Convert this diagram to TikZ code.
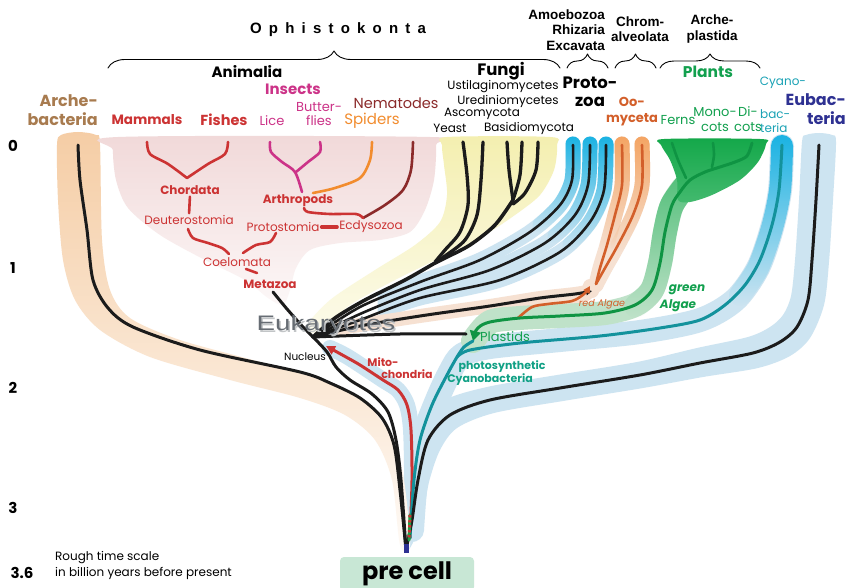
\documentclass[tikz,border=0pt]{standalone}
\usepackage{fontspec}
\usepackage{graphicx}
\setmainfont{Poppins}
\newfontfamily\arial{Liberation Sans}
\usetikzlibrary{arrows.meta,decorations.pathreplacing,fadings}

\definecolor{animred}{HTML}{CC3333}
\definecolor{insect}{HTML}{CC3388}
\definecolor{spider}{HTML}{F28C2E}
\definecolor{nema}{HTML}{8B2A2A}
\definecolor{archetxt}{HTML}{A87B4F}
\definecolor{archeband}{HTML}{F5CDA5}
\definecolor{animbg}{HTML}{F1D9D9}
\definecolor{fungibg}{HTML}{F4EFB0}
\definecolor{protocyan}{HTML}{1BB3E3}
\definecolor{paleblue}{HTML}{CDE4F1}
\definecolor{oobg}{HTML}{F4A564}
\definecolor{ooline}{HTML}{D35F2A}
\definecolor{peach}{HTML}{F6E1D2}
\definecolor{plantgreen}{HTML}{14A84A}
\definecolor{plantline}{HTML}{0F9443}
\definecolor{algaebg}{HTML}{BFE2C9}
\definecolor{greentxt}{HTML}{12A04E}
\definecolor{cyantxt}{HTML}{1AA2B5}
\definecolor{tealline}{HTML}{13929C}
\definecolor{eubtxt}{HTML}{2E3192}
\definecolor{precell}{HTML}{C8E7D5}
\definecolor{eukgray}{HTML}{676D74}
\definecolor{photo}{HTML}{10A085}
\definecolor{linek}{HTML}{1B1B1B}

\tikzfading[name=downfade, top color=transparent!0, bottom color=transparent!100]

\tikzset{
  ft/.style 2 args={font=\fontsize{#1}{#2}\selectfont},
  fb/.style 2 args={font=\fontsize{#1}{#2}\selectfont\bfseries},
  fi/.style 2 args={font=\fontsize{#1}{#2}\selectfont\itshape},
  fbi/.style 2 args={font=\fontsize{#1}{#2}\selectfont\bfseries\itshape},
  hd/.style={font=\arial\fontsize{13.5}{15.5}\selectfont\bfseries},
  blk/.style={draw=linek,line width=3},
  anim/.style={draw=animred,line width=2.6},
  tip/.style={-{Triangle[length=#1,width=#1]}}
}

\begin{document}
\begin{tikzpicture}[x=1pt,y=-1pt,line cap=round,line join=round,
  every node/.style={inner sep=0pt}]
\useasboundingbox (0,0) rectangle (850,588);
\fill[white] (0,0) rectangle (850,588);

% junctions of the tree
\coordinate (E) at (313,337);
\coordinate (P) at (473,341);
\coordinate (R) at (592,291);
\coordinate (Ra) at (590,286);
\coordinate (O) at (406,550);

%% background bands
% eubacteria
\fill[paleblue] plot[smooth cycle,tension=0.5] coordinates {(802,142) (799,200) (795,260) (791,296) (783,315) (770,327) (748,337) (697,348) (637,362) (557,375) (487,387) (443,401) (415,430) (404,475) (400,520) (403,548) (410,548) (422,520) (429,482) (440,450) (457,428) (494,413) (563,401) (643,388) (703,377) (758,368) (790,356) (810,338) (824,305) (829,262) (833,200) (836,142) (832,135) (819,133) (806,135)};
% cyanobacteria
\draw[paleblue,line width=24] plot[smooth] coordinates {(782,146) (780,190) (772,228) (758,268) (735,300) (700,320) (640,332) (560,340) (490,347) (462,355) (450,372) (437,400) (424,435) (416,480) (412,530)};
\draw[protocyan,line width=22,path fading=downfade] plot[smooth] coordinates {(782,146) (780,190) (772,228) (758,268) (740,295)};
% mitochondria
\draw[paleblue,line width=16] plot[smooth] coordinates {(330,348) (348,357) (383,380) (398,390) (407,405) (411,430) (412,480) (410,530)};
% archebacteria
\shade[top color=archeband,bottom color=archeband!10] plot[smooth cycle,tension=0.5] coordinates {(57,145) (58,200) (63,260) (75,300) (100,330) (150,357) (230,380) (300,398) (345,415) (375,440) (392,480) (400,545) (410,545) (404,480) (393,440) (368,405) (330,383) (260,362) (180,340) (130,318) (110,290) (102,240) (100,145) (96,135) (78,132) (61,135)};
% animals
\shade[top color=animbg,bottom color=animbg!20] plot[smooth cycle,tension=0.5] coordinates {(118,137) (430,137) (436,145) (434,180) (425,210) (410,232) (380,240) (340,243) (310,250) (296,268) (290,290) (283,305) (268,298) (245,280) (205,260) (160,235) (128,208) (116,180) (113,150)};
% fungi
\shade[top color=fungibg,bottom color=fungibg!25] plot[smooth cycle,tension=0.5] coordinates {(447,137) (550,137) (557,145) (554,170) (540,195) (515,215) (480,238) (440,258) (395,280) (350,305) (318,332) (305,328) (330,300) (375,270) (415,245) (440,222) (447,195) (444,165) (442,145)};
% protozoa
\foreach \pth in {
  {(573,144) (572,180) (560,205) (530,232) (480,260) (420,282) (385,296)},
  {(590,144) (588,185) (575,215) (545,243) (490,270) (420,290) (385,303)},
  {(606,144) (604,190) (590,222) (560,252) (500,280) (420,298) (385,310)}}
  \draw[paleblue,line width=15] plot[smooth] coordinates \pth;
\draw[protocyan,line width=15,path fading=downfade] plot[smooth] coordinates {(573,144) (572,180) (560,205) (540,225)};
\draw[protocyan,line width=15,path fading=downfade] plot[smooth] coordinates {(590,144) (588,185) (575,215) (555,236)};
\draw[protocyan,line width=15,path fading=downfade] plot[smooth] coordinates {(606,144) (604,190) (590,222) (570,244)};
% chromalveolata and red algae
\draw[peach,line width=14] plot[smooth] coordinates {(340,328) (420,316) (490,306) (540,298) (575,294) (R)};
\draw[peach,line width=14] plot[smooth] coordinates {(515,320) (532,307) (548,304) (572,301) (586,294) (Ra)};
\draw[peach,line width=15] plot[smooth] coordinates {(622,144) (622,185) (615,215) (607,245) (600,268) (596,285)};
\draw[peach,line width=15] plot[smooth] coordinates {(642,144) (642,185) (633,215) (618,245) (605,268) (596,285)};
\draw[oobg,line width=15,path fading=downfade] plot[smooth] coordinates {(622,144) (622,185) (615,215) (607,245)};
\draw[oobg,line width=15,path fading=downfade] plot[smooth] coordinates {(642,144) (642,185) (633,215) (618,245)};
% green algae
\draw[algaebg,line width=24] plot[smooth] coordinates {(P) (490,322) (520,318) (560,316) (605,313) (635,305) (652,290) (660,263) (665,232) (672,205) (683,188)};
\draw[plantgreen!75,line width=24,path fading=downfade] plot[smooth] coordinates {(690,180) (672,205) (665,232) (660,263) (652,290) (636,306)};
% plants
\shade[top color=plantgreen,bottom color=plantgreen!80] plot[smooth cycle,tension=0.5] coordinates {(664,139) (760,139) (766,144) (758,162) (740,180) (712,195) (690,202) (678,200) (677,180) (670,160) (661,145)};

%% animal tree
\draw[anim] plot[smooth] coordinates {(147,142) (150,154) (168,164) (187,178)};
\draw[anim] plot[smooth] coordinates {(228,142) (225,154) (208,164) (187,178)};
\draw[insect,line width=2.6] plot[smooth] coordinates {(270,142) (271,152) (282,162) (295,172) (302,192)};
\draw[insect,line width=2.6] plot[smooth] coordinates {(320,142) (320,152) (308,162) (296,172)};
\draw[spider,line width=2.6] plot[smooth] coordinates {(372,142) (370,160) (360,178) (335,188) (313,193)};
\draw[nema,line width=2.6] plot[smooth] coordinates {(413,142) (411,170) (403,190) (385,205) (363,218)};

\node[fb={12}{14},animred] (chordata) at (190,190) {Chordata};
\node[ft={12}{14},animred] (deutero) at (189,220) {Deuterostomia};
\node[ft={12}{14},animred] (protosto) at (283,227) {Protostomia};
\node[ft={12}{14},animred] (ecdyso) at (371,227) {Ecdysozoa};
\node[ft={12}{14},animred] (coelomata) at (237,262) {Coelomata};
\node[fb={12}{14},animred] (metazoa) at (270,284) {Metazoa};
\node[fb={12}{14},animred] (arthro) at (298,201) {Arthropods};

\draw[anim,shorten <=2,shorten >=2] (chordata.south) -- (deutero.north);
\draw[anim,line width=3.5,shorten <=2,shorten >=2] (protosto.east) -- (ecdyso.west);
\draw[anim] (246,269) -- (257,273);
\draw[anim] plot[smooth] coordinates {(188,229) (193,238) (208,243) (222,248) (229,254)};
\draw[anim] plot[smooth] coordinates {(276,233) (270,242) (256,245) (243,253)};
\draw[anim] plot[smooth] coordinates {(304,208) (308,212) (330,214) (356,214) (363,218)};

%% eukaryote lines
\draw[blk] plot[smooth] coordinates {(273,292) (287,309) (303,327) (E)};
% fungi
\draw[blk,line width=3.3] plot[smooth] coordinates {(463,142) (467,175) (468,205) (460,232) (445,250) (435,262)};
\draw[blk,line width=3.3] plot[smooth] coordinates {(483,142) (481,180) (477,215) (465,240) (445,256) (435,263)};
\draw[blk,line width=3.3] plot[smooth] coordinates {(507,142) (509,170) (513,200)};
\draw[blk,line width=3.3] plot[smooth] coordinates {(522,142) (520,175) (513,200)};
\draw[blk,line width=3.3] plot[smooth] coordinates {(538,142) (536,170) (525,193) (513,204)};
\draw[blk,line width=3.6] plot[smooth] coordinates {(513,200) (495,225) (470,245) (445,258) (435,263) (405,280) (365,300) (335,318) (E)};
% protozoa
\draw[blk,line width=2.6] plot[smooth] coordinates {(573,145) (572,180) (560,205) (530,232) (480,260) (420,282) (360,307) (E)};
\draw[blk,line width=2.6] plot[smooth] coordinates {(590,145) (588,185) (575,215) (545,243) (490,270) (420,290) (360,314) (E)};
\draw[blk,line width=2.6] plot[smooth] coordinates {(606,145) (604,190) (590,222) (560,252) (500,280) (420,298) (360,320) (E)};
% chromalveolata with captured red algae
\draw[blk,tip=6] plot[smooth] coordinates {(E) (360,326) (420,316) (490,306) (540,298) (575,294) (R)};
\draw[ooline,line width=2.6,tip=7] plot[smooth] coordinates {(518,318) (532,307) (548,304) (572,301) (584,294) (Ra)};
\draw[ooline,line width=2.6] plot[smooth] coordinates {(596,284) (600,268) (607,245) (615,215) (622,185) (622,145)};
\draw[ooline,line width=2.6] plot[smooth] coordinates {(596,284) (605,268) (618,245) (633,215) (642,185) (642,145)};
% plastids
\draw[blk] plot[smooth] coordinates {(E) (400,334) (466,334)};
\draw[plantline,line width=3,{Triangle[length=10,width=11]}-] plot[smooth] coordinates {(P) (478,328) (490,322) (520,318) (560,316) (605,313) (635,305) (652,290) (660,263) (665,232) (672,205) (680,192) (690,180) (705,172) (720,167) (735,162) (747,156) (752,143)};
\draw[plantline,line width=2.6] plot[smooth] coordinates {(672,143) (678,160) (686,178)};
\draw[plantline,line width=2.6] plot[smooth] coordinates {(713,143) (714,155) (712,167)};
% nucleus, archebacteria, mitochondria
\draw[blk] plot[smooth] coordinates {(E) (327,352) (336,367) (350,380) (372,394) (388,412) (396,440) (401,480) (O)};
\draw[blk] plot[smooth] coordinates {(78,145) (80,180) (87,230) (93,280) (108,308) (133,327) (200,350) (300,372) (330,383) (360,398) (382,418) (394,445) (400,490) (O)};
\draw[animred,line width=3,tip=9] plot[smooth] coordinates {(410,538) (412,480) (411,430) (407,405) (398,390) (383,380) (360,365) (346,357) (326,346)};
% cyanobacteria and eubacteria
\draw[tealline,line width=3] plot[smooth] coordinates {(410,538) (414,480) (420,440) (432,405) (447,375) (457,357) (464,347) (P)};
\draw[tealline,line width=3] plot[smooth] coordinates {(457,357) (470,350) (520,343) (600,336) (660,328) (700,320) (725,305) (745,285) (760,260) (772,225) (779,190) (782,145)};
\draw[blk] plot[smooth] coordinates {(819,145) (816,200) (812,260) (808,300) (797,327) (780,342) (753,353) (700,363) (640,375) (560,388) (490,400) (450,415) (428,440) (418,480) (412,520) (O)};
\draw[plantgreen,line width=3] (410,515) -- (409,540);
\draw[animred,line width=3,line cap=butt,dash pattern=on 2.5 off 2.5] (410,515) -- (409,540);
\fill[eubtxt] (403.5,544) rectangle (408.5,553);

%% braces
\draw[line width=0.9,decorate,decoration={brace,amplitude=17}] (108,68) -- (560,68);
\draw[line width=0.9,decorate,decoration={brace,amplitude=14}] (567,68) -- (608,68);
\draw[line width=0.9,decorate,decoration={brace,amplitude=14}] (615,68) -- (656,68);
\draw[line width=0.9,decorate,decoration={brace,amplitude=14}] (660,68) -- (760,68);

%% labels
\node[font=\arial\fontsize{15}{17}\selectfont\bfseries\addfontfeature{LetterSpace=48}] (ophi) at (338,30) {Ophistokonta};
\node[hd,anchor=east,align=right] (amoe) at (605,30) {Amoebozoa\\Rhizaria\\Excavata};
\node[hd,align=center] (chrom) at (640,29) {Chrom-\\alveolata};
\node[hd,align=center] (archepl) at (712,29) {Arche-\\plastida};

\node[fb={15}{18}] (animalia) at (247,72) {Animalia};
\node[fb={15}{18},insect] (insects) at (293,89) {Insects};
\node[fb={16}{19},archetxt,align=right,anchor=east] (arche) at (98,110) {Arche-\\bacteria};
\node[fb={13.5}{16},animred] (mammals) at (147,120) {Mammals};
\node[fb={14.5}{17},animred] (fishes) at (224,120) {Fishes};
\node[ft={13}{15},insect] (lice) at (272,121) {Lice};
\node[ft={13}{14},insect,align=center] (butter) at (319,114) {Butter-\\flies};
\node[ft={14.5}{17},nema] (nematodes) at (396,103) {Nematodes};
\node[ft={15}{18},spider] (spiders) at (372,121) {Spiders};

\node[fb={16.5}{20}] (fungi) at (501,71) {Fungi};
\node[ft={12}{14}] (ustil) at (503,87) {Ustilaginomycetes};
\node[ft={12}{14}] (ured) at (508,101) {Urediniomycetes};
\node[ft={12}{14}] (asco) at (482,114) {Ascomycota};
\node[ft={12}{14}] (yeast) at (450,128) {Yeast};
\node[ft={12}{14}] (basid) at (529,128) {Basidiomycota};

\node[fb={16.5}{18},align=center] (proto) at (590,92) {Proto-\\zoa};
\node[fb={13}{16},ooline,align=center] (oomyc) at (632,112) {Oo-\\myceta};
\node[fb={15.5}{18},greentxt] (plants) at (708,72) {Plants};
\node[ft={13}{15},greentxt] (ferns) at (678,120) {Ferns};
\node[ft={13}{15},greentxt,align=center] (monocots) at (715,119.5) {Mono-\\cots};
\node[ft={13}{15},greentxt,align=center] (dicots) at (748,119.5) {Di-\\cots};
\node[ft={12}{14},cyantxt] (cyano) at (783,83) {Cyano-};
\node[ft={12}{14},cyantxt,align=left,anchor=west] (bacteria) at (760,121) {bac-\\teria};
\node[fb={16}{19},eubtxt,align=right,anchor=east] (eubac) at (846,109.5) {Eubac-\\teria};

\node[fb={15}{18}] (t0) at (13,146) {0};
\node[fb={15}{18}] (t1) at (13,268) {1};
\node[fb={15}{18}] (t2) at (13,388) {2};
\node[fb={15}{18}] (t3) at (13,508) {3};
\node[fb={15}{18}] (t36) at (22,573) {3.6};
\node[ft={12}{14},anchor=west] (scaleA) at (55,558) {Rough time scale};
\node[ft={12}{14},anchor=west] (scaleB) at (55,573) {in billion years before present};

\node[ft={10.5}{12}] (nucleus) at (305,357) {Nucleus};
\node[fb={11}{13},animred] (mito) at (383,362) {Mito-};
\node[fb={11}{13},animred] (chondria) at (407,374) {chondria};
\node[ft={13}{15},greentxt] (plastids) at (505,337) {Plastids};
\node[fb={11}{13},photo] (photosyn) at (502,367) {photosynthetic};
\node[fb={11}{13},photo] (cyanobac) at (490,380) {Cyanobacteria};
\node[fi={9.5}{11},ooline] (redalgae) at (602,304) {red Algae};
\node[fbi={12}{14},greentxt] (greenA) at (687,290) {green};
\node[fbi={12}{14},greentxt] (algaeA) at (678,306) {Algae};

\node[font=\arial\fontsize{21}{24}\selectfont,text=eukgray!40] at (327.5,327) {\scalebox{1.32}[1]{Eukaryotes}};
\node[font=\arial\fontsize{21}{24}\selectfont,text=eukgray] (euk) at (326,325.5) {\scalebox{1.32}[1]{Eukaryotes}};

\node[fill=precell,rounded corners=4,minimum width=134,minimum height=34,fb={24}{26}] (pre) at (407,574) {pre cell};
\end{tikzpicture}
\end{document}
